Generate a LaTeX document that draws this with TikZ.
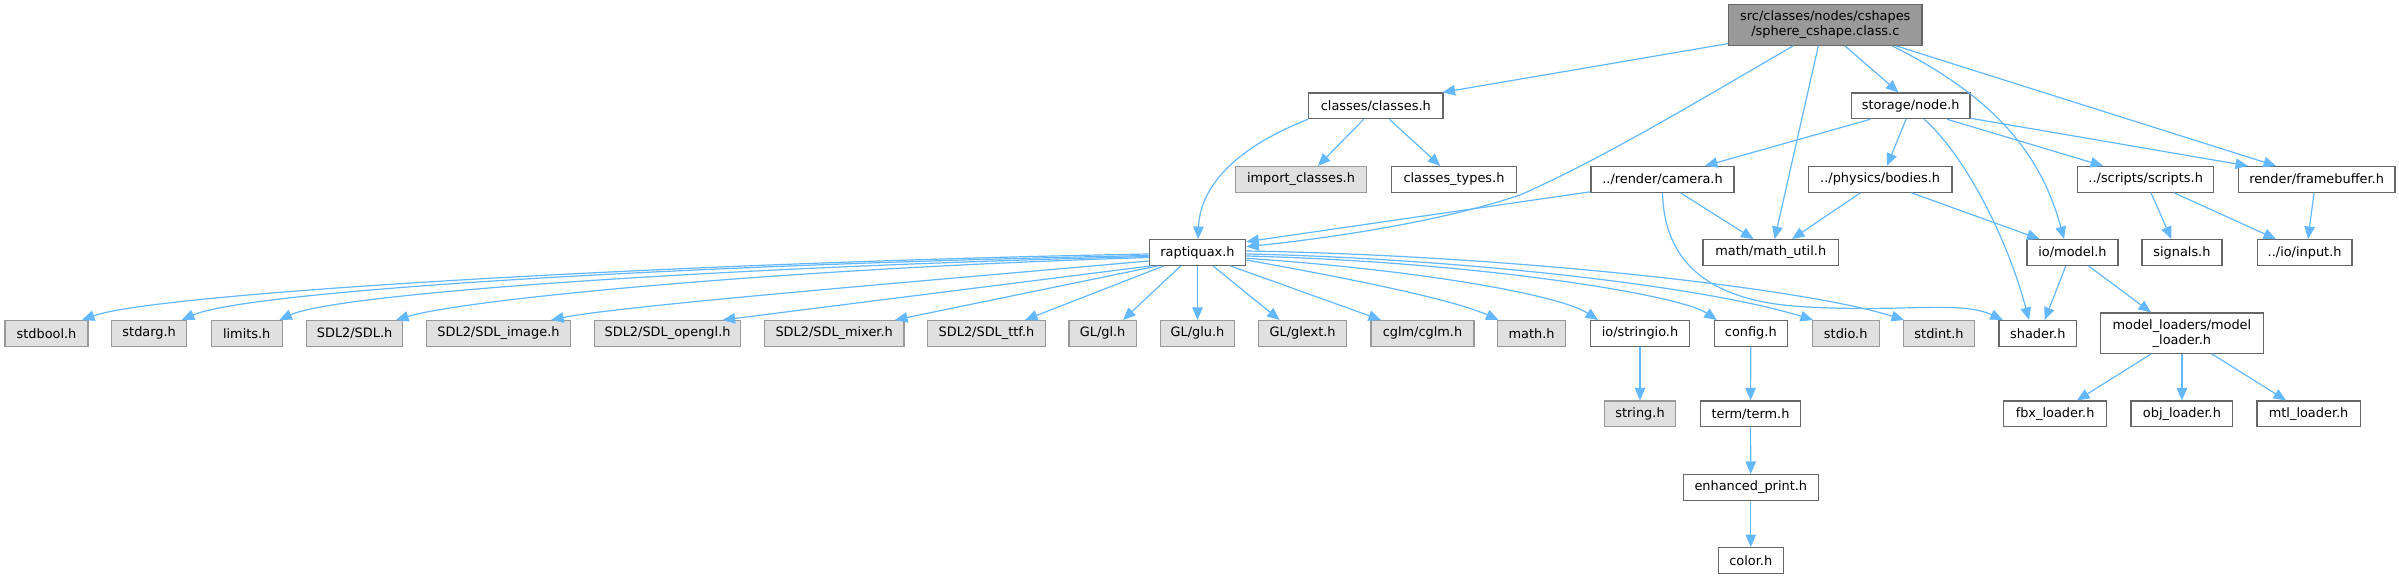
\documentclass[tikz,border=0pt]{standalone}
\usepackage{fontspec}
\setmainfont{DejaVu Sans}
\usetikzlibrary{arrows.meta}
\definecolor{edgeblue}{HTML}{63B8FF}
\definecolor{bordergray}{HTML}{666666}
\definecolor{sysborder}{HTML}{999999}
\definecolor{sysfill}{HTML}{E0E0E0}
\definecolor{rootfill}{HTML}{999999}
\definecolor{rootborder}{HTML}{666666}
\tikzset{
  box/.style={draw=bordergray, fill=white, line width=1.3pt, inner sep=0pt,
    minimum height=25.6pt, text=black, align=center,
    font=\fontsize{12.9}{15}\selectfont},
  sys/.style={box, draw=sysborder, fill=sysfill},
  rootbox/.style={box, draw=rootborder, fill=rootfill},
  edge/.style={draw=edgeblue, line width=1.2pt, -{Triangle[length=12.5pt,width=10.5pt]}},
}
\begin{document}
\begin{tikzpicture}[x=1pt,y=-1pt]
\fill[white] (0,0) rectangle (2399,579);
\path[use as bounding box] (0,0) rectangle (2399,579);

% row 0
\node[rootbox, minimum width=193.5pt, minimum height=40.6pt] (root) at (1825.3,25) {src/classes/nodes/cshapes\\/sphere\_cshape.class.c};
% row 1
\node[box, minimum width=134.2pt] (classes) at (1375.8,105.8) {classes/classes.h};
\node[box, minimum width=118.4pt] (node) at (1910.7,105.8) {storage/node.h};
% row 2
\node[sys, minimum width=131.6pt] (import) at (1301,179.35) {import\_classes.h};
\node[box, minimum width=125.5pt] (types) at (1454,179.35) {classes\_types.h};
\node[box, minimum width=143pt] (camera) at (1662.5,179.35) {../render/camera.h};
\node[box, minimum width=143.8pt] (bodies) at (1880.1,179.35) {../physics/bodies.h};
\node[box, minimum width=136.2pt] (scripts) at (2145.7,179.35) {../scripts/scripts.h};
\node[box, minimum width=156.6pt] (framebuffer) at (2316.6,179.35) {render/framebuffer.h};
% row 3
\node[box, minimum width=96.4pt] (rap) at (1197.5,252.5) {raptiquax.h};
\node[box, minimum width=135.2pt] (mathutil) at (1770.7,252.5) {math/math\_util.h};
\node[box, minimum width=90.9pt] (model) at (2072.5,252.5) {io/model.h};
\node[box, minimum width=80.1pt] (signals) at (2181.9,252.5) {signals.h};
\node[box, minimum width=94.9pt] (input) at (2304.6,252.5) {../io/input.h};
% row 4
\node[sys, minimum width=83pt] (stdbool) at (46.5,333.4) {stdbool.h};
\node[sys, minimum width=75pt] (stdarg) at (149.2,333.4) {stdarg.h};
\node[sys, minimum width=70.9pt] (limits) at (246.7,333.4) {limits.h};
\node[sys, minimum width=96pt] (sdl) at (354.6,333.4) {SDL2/SDL.h};
\node[sys, minimum width=143.9pt] (sdlimage) at (498.5,333.4) {SDL2/SDL\_image.h};
\node[sys, minimum width=146.4pt] (sdlopengl) at (667.6,333.4) {SDL2/SDL\_opengl.h};
\node[sys, minimum width=139.8pt] (sdlmixer) at (834.2,333.4) {SDL2/SDL\_mixer.h};
\node[sys, minimum width=117.8pt] (sdlttf) at (986.5,333.4) {SDL2/SDL\_ttf.h};
\node[sys, minimum width=67.3pt] (gl) at (1102.6,333.4) {GL/gl.h};
\node[sys, minimum width=74.5pt] (glu) at (1197.5,333.4) {GL/glu.h};
\node[sys, minimum width=87.7pt] (glext) at (1302.6,333.4) {GL/glext.h};
\node[sys, minimum width=103.1pt] (cglm) at (1422.5,333.4) {cglm/cglm.h};
\node[sys, minimum width=68.4pt] (mathh) at (1531.6,333.4) {math.h};
\node[box, minimum width=99.5pt] (stringio) at (1640,333.4) {io/stringio.h};
\node[box, minimum width=72.9pt] (config) at (1750.8,333.4) {config.h};
\node[sys, minimum width=66.9pt] (stdio) at (1845.7,333.4) {stdio.h};
\node[sys, minimum width=70.9pt] (stdint) at (1939,333.4) {stdint.h};
\node[box, minimum width=77.5pt] (shader) at (2037.8,333.4) {shader.h};
\node[box, minimum width=162.8pt, minimum height=40.3pt] (loaders) at (2181.9,333.2) {model\_loaders/model\\\_loader.h};
% row 5
\node[sys, minimum width=70.9pt] (string) at (1640,413.85) {string.h};
\node[box, minimum width=100pt] (term) at (1750.5,413.85) {term/term.h};
\node[box, minimum width=103pt] (fbx) at (2055.1,413.85) {fbx\_loader.h};
\node[box, minimum width=101.6pt] (obj) at (2181.9,413.85) {obj\_loader.h};
\node[box, minimum width=103.1pt] (mtl) at (2308.6,413.85) {mtl\_loader.h};
% row 6, 7
\node[box, minimum width=135.2pt] (enhanced) at (1750.8,487.4) {enhanced\_print.h};
\node[box, minimum width=64.8pt] (color) at (1750.8,560.5) {color.h};

% root edges
\draw[edge] ([yshift=2.3pt]root.south west) -- ([xshift=-1pt]classes.north east);
\draw[edge] ([xshift=-32.3pt]root.south) .. controls (1700,100) and (1600,160) .. (1520,195) .. controls (1440,222) and (1330,238) .. ([yshift=5.8pt]rap.east);
\draw[edge] ([xshift=-7pt]root.south) -- ([xshift=3.9pt]mathutil.north);
\draw[edge] ([xshift=19.7pt]root.south) -- ([xshift=-12.2pt]node.north);
\draw[edge] ([xshift=67pt]root.south) .. controls (1990,95) and (2040,150) .. ([xshift=-8.5pt]model.north);
\draw[edge] ([xshift=71pt]root.south) -- ([xshift=-40.6pt]framebuffer.north);

% classes edges
\draw[edge] (classes.south west) .. controls (1230,150) and (1200,190) .. ([xshift=0.5pt]rap.north);
\draw[edge] ([xshift=-12pt]classes.south) -- ([xshift=16.9pt]import.north);
\draw[edge] ([xshift=13.5pt]classes.south) -- ([xshift=-13.7pt]types.north);

% storage/node.h edges
\draw[edge] ([xshift=-40.3pt]node.south) -- ([xshift=42.5pt]camera.north);
\draw[edge] ([xshift=-4.7pt]node.south) -- ([xshift=6.9pt]bodies.north);
\draw[edge] ([xshift=13.3pt]node.south) .. controls (1960,150) and (2005,230) .. ([xshift=-8.8pt]shader.north);
\draw[edge] ([xshift=36.3pt]node.south) -- ([xshift=-42.7pt]scripts.north);
\draw[edge] ([yshift=1pt]node.south east) -- ([xshift=-68.6pt]framebuffer.north);

% camera edges
\draw[edge] ([yshift=1pt]camera.south west) -- ([yshift=10.8pt]rap.east);
\draw[edge] ([xshift=18pt]camera.south) -- ([xshift=-17.2pt]mathutil.north);
\draw[edge] (camera.south) .. controls (1664,255) and (1700,300) .. (1800,306.5) .. controls (1900,313) and (1960,300) .. ([xshift=-35pt]shader.north);

% bodies edges
\draw[edge] ([xshift=-19.6pt]bodies.south) -- ([xshift=21.3pt]mathutil.north);
\draw[edge] ([xshift=31.3pt]bodies.south) -- ([xshift=-33pt]model.north);

% scripts, framebuffer
\draw[edge] ([xshift=5.3pt]scripts.south) -- ([xshift=-10.5pt]signals.north);
\draw[edge] ([xshift=28.3pt]scripts.south) -- ([xshift=-28.6pt]input.north);
\draw[edge] ([xshift=-2.6pt]framebuffer.south) -- ([xshift=3.4pt]input.north);

% model edges
\draw[edge] ([xshift=-6.7pt]model.south) -- ([xshift=6.9pt]shader.north);
\draw[edge] ([xshift=16.1pt]model.south) -- ([xshift=-30.9pt]loaders.north);

% loaders
\draw[edge] ([xshift=-30.9pt]loaders.south) -- ([xshift=21.9pt]fbx.north);
\draw[edge] (loaders.south) -- (obj.north);
\draw[edge] ([xshift=30.1pt]loaders.south) -- ([xshift=-22.6pt]mtl.north);

% chains
\draw[edge] (stringio) -- (string);
\draw[edge] (config) -- (term);
\draw[edge] (term) -- (enhanced);
\draw[edge] (enhanced) -- (color);

% raptiquax fan
\draw[edge] ([yshift=-1.5pt]rap.west) .. controls (700,262) and (160,292) .. ([xshift=35.5pt]stdbool.north);
\draw[edge] ([yshift=-3pt]rap.west) .. controls (700,264) and (250,290) .. ([xshift=32.6pt]stdarg.north);
\draw[edge] ([yshift=-4pt]rap.west) .. controls (750,266) and (340,292) .. ([xshift=32.7pt]limits.north);
\draw[edge] ([yshift=-5pt]rap.west) .. controls (800,268) and (470,298) .. ([xshift=41.4pt]sdl.north);
\draw[edge] ([yshift=-8.5pt]rap.west) .. controls (900,283) and (620,306) .. ([xshift=52.6pt]sdlimage.north);
\draw[edge] ([xshift=2pt]rap.south west) -- ([xshift=55pt]sdlopengl.north);
\draw[edge] ([xshift=9pt]rap.south west) -- ([xshift=60.8pt]sdlmixer.north);
\draw[edge] ([xshift=15pt]rap.south west) -- ([xshift=38.5pt]sdlttf.north);
\draw[edge] ([xshift=32pt]rap.south west) -- ([xshift=20.4pt]gl.north);
\draw[edge] (rap.south) -- (glu.north);
\draw[edge] ([xshift=15.5pt]rap.south) -- ([xshift=-23pt]glext.north);
\draw[edge] ([xshift=33pt]rap.south) -- ([xshift=-41.5pt]cglm.north);
\draw[edge] ([yshift=-7.5pt]rap.east) .. controls (1330,275) and (1450,298) .. ([xshift=-33.1pt]mathh.north);
\draw[edge] ([yshift=-5.8pt]rap.east) .. controls (1420,270) and (1560,295) .. ([xshift=-42pt]stringio.north);
\draw[edge] ([yshift=-3.5pt]rap.east) .. controls (1480,262) and (1680,295) .. ([xshift=-34pt]config.north);
\draw[edge] ([yshift=-1.5pt]rap.east) .. controls (1450,258) and (1700,285) .. ([xshift=-32.7pt]stdio.north);
\draw[edge] ([yshift=1.5pt]rap.east) .. controls (1500,255) and (1800,287) .. ([xshift=-35pt]stdint.north);
\end{tikzpicture}
\end{document}
